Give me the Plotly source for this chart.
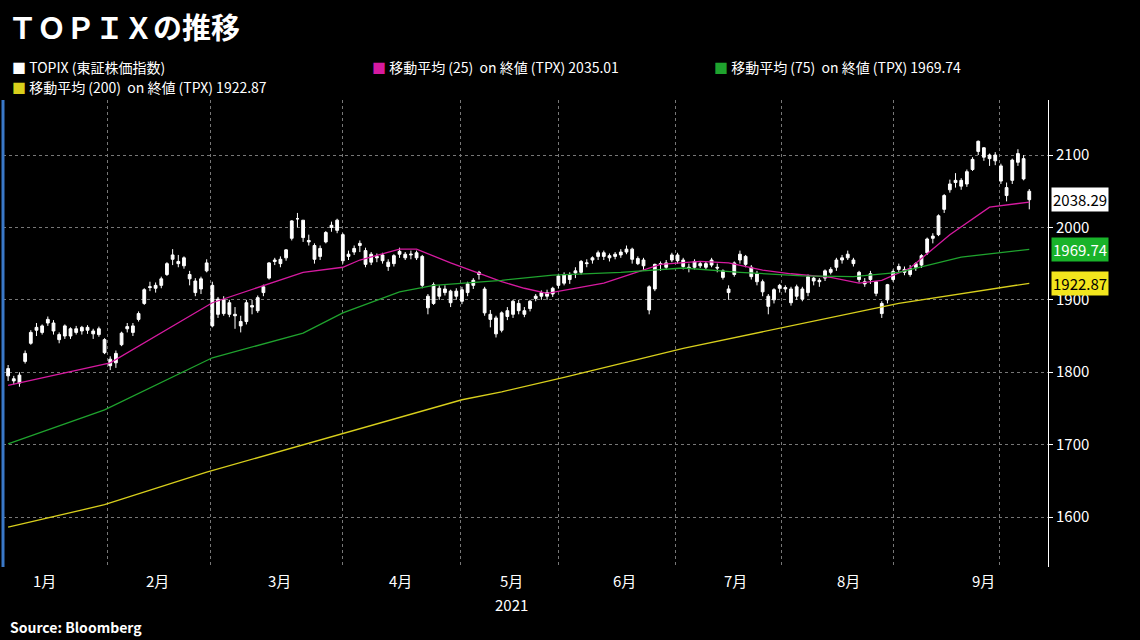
import plotly.graph_objects as go

# ---- daily TOPIX candles, 2021-01-04 .. 2021-09-29 ----
opens = [
    1805, 1788, 1785, 1815, 1840, 1862, 1855, 1868, 1868, 1852, 1850, 1860, 1855, 1862, 1858, 1857, 1852, 1845, 1818,
    1813, 1838, 1860, 1855, 1873, 1895, 1917, 1920, 1920, 1935, 1962, 1950, 1958, 1935, 1910, 1915, 1940, 1920,
    1880, 1900, 1880, 1880, 1870, 1870, 1890, 1885, 1910, 1930, 1955, 1950, 1958, 1985, 2012, 2010, 1980, 1975, 1960, 1980, 2000, 2010, 1990,
    1960, 1966, 1978, 1968, 1952, 1960, 1962, 1952, 1950, 1963, 1963, 1962, 1965, 1960, 1905, 1895, 1916, 1910, 1912, 1905, 1914,
    1910, 1920, 1938, 1915, 1880, 1875, 1858, 1885, 1880, 1895, 1880, 1888, 1902, 1905, 1910, 1908, 1920, 1935,
    1928, 1940, 1938, 1950, 1955, 1960, 1965, 1958, 1960, 1962, 1966, 1970, 1950, 1955, 1918, 1915, 1950, 1945, 1955, 1962, 1955, 1945,
    1945, 1950, 1945, 1955, 1945, 1940, 1915, 1935, 1955, 1960, 1945, 1925, 1925, 1905, 1900, 1920, 1915, 1915, 1905, 1915,
    1910, 1930, 1925, 1930, 1938, 1945, 1955, 1958, 1955, 1938, 1925, 1928, 1925, 1895, 1900, 1928, 1942, 1942, 1935, 1950, 1948,
    1965, 1985, 1990, 2025, 2052, 2062, 2065, 2060, 2080, 2105, 2110, 2100, 2092, 2085, 2055, 2065, 2090, 2095, 2050,
]
highs = [
    1810, 1795, 1800, 1830, 1858, 1868, 1866, 1877, 1872, 1855, 1866, 1862, 1864, 1864, 1865, 1860, 1863, 1847, 1822,
    1830, 1856, 1868, 1868, 1884, 1916, 1925, 1924, 1932, 1952, 1970, 1962, 1960, 1940, 1930, 1932, 1956, 1925,
    1904, 1905, 1900, 1890, 1878, 1900, 1900, 1906, 1921, 1952, 1958, 1960, 1970, 2010, 2020, 2010, 1990, 1978, 1975, 1995, 2008, 2012, 1992,
    1968, 1975, 1982, 1972, 1966, 1964, 1965, 1956, 1963, 1972, 1966, 1968, 1968, 1962, 1908, 1924, 1920, 1920, 1914, 1916, 1918,
    1925, 1930, 1940, 1918, 1886, 1878, 1884, 1890, 1900, 1900, 1890, 1900, 1908, 1913, 1914, 1918, 1936, 1938,
    1938, 1945, 1955, 1956, 1960, 1968, 1968, 1964, 1966, 1970, 1975, 1972, 1960, 1958, 1920, 1950, 1953, 1955, 1965, 1965, 1958, 1950,
    1956, 1953, 1953, 1958, 1950, 1942, 1920, 1953, 1968, 1962, 1948, 1940, 1928, 1908, 1916, 1922, 1920, 1918, 1921, 1918,
    1935, 1932, 1930, 1942, 1945, 1958, 1962, 1968, 1958, 1940, 1930, 1940, 1926, 1898, 1922, 1942, 1950, 1946, 1948, 1952, 1963,
    1986, 1992, 2018, 2046, 2066, 2075, 2068, 2080, 2097, 2120, 2111, 2102, 2104, 2088, 2062, 2095, 2108, 2100, 2053,
]
lows = [
    1788, 1783, 1780, 1812, 1838, 1850, 1852, 1864, 1852, 1840, 1846, 1846, 1852, 1852, 1853, 1846, 1849, 1825, 1803,
    1806, 1836, 1855, 1850, 1870, 1893, 1912, 1910, 1916, 1933, 1948, 1945, 1943, 1920, 1905, 1908, 1938, 1862,
    1875, 1878, 1876, 1860, 1855, 1866, 1880, 1882, 1905, 1928, 1948, 1945, 1954, 1982, 2000, 1980, 1975, 1950, 1955, 1978, 1994, 1992, 1950,
    1955, 1962, 1966, 1945, 1948, 1952, 1950, 1940, 1946, 1958, 1955, 1956, 1955, 1916, 1880, 1893, 1900, 1906, 1890, 1900, 1894,
    1905, 1915, 1928, 1878, 1862, 1848, 1855, 1872, 1875, 1880, 1876, 1884, 1898, 1900, 1900, 1904, 1916, 1920,
    1922, 1930, 1935, 1945, 1950, 1955, 1955, 1953, 1956, 1958, 1963, 1950, 1948, 1940, 1880, 1912, 1940, 1942, 1952, 1950, 1942, 1938,
    1942, 1944, 1942, 1945, 1938, 1928, 1900, 1932, 1950, 1945, 1928, 1920, 1905, 1880, 1895, 1910, 1910, 1892, 1900, 1898,
    1905, 1920, 1918, 1926, 1935, 1940, 1950, 1955, 1946, 1924, 1918, 1922, 1905, 1875, 1895, 1925, 1938, 1934, 1932, 1940, 1944,
    1962, 1978, 1988, 2020, 2048, 2055, 2052, 2056, 2078, 2100, 2092, 2085, 2086, 2060, 2036, 2060, 2085, 2065, 2025,
]
closes = [
    1795, 1791, 1796, 1826, 1855, 1858, 1864, 1873, 1857, 1845, 1864, 1850, 1860, 1857, 1862, 1853, 1860, 1827, 1809,
    1826, 1854, 1863, 1864, 1881, 1914, 1918, 1916, 1929, 1950, 1956, 1953, 1947, 1929, 1926, 1929, 1951, 1864,
    1901, 1881, 1896, 1878, 1864, 1896, 1892, 1903, 1918, 1951, 1953, 1956, 1969, 2009, 2012, 1986, 1982, 1956, 1971, 1993, 2003, 1996, 1954,
    1963, 1971, 1975, 1949, 1963, 1958, 1954, 1946, 1961, 1967, 1958, 1963, 1958, 1920, 1889, 1921, 1905, 1915, 1896, 1912, 1898,
    1922, 1927, 1935, 1882, 1873, 1853, 1882, 1877, 1898, 1885, 1885, 1898, 1905, 1910, 1905, 1916, 1933, 1923,
    1935, 1937, 1953, 1951, 1958, 1965, 1960, 1961, 1963, 1966, 1970, 1956, 1957, 1947, 1886, 1949, 1949, 1951, 1962, 1954, 1946, 1944,
    1953, 1947, 1950, 1948, 1944, 1931, 1910, 1951, 1963, 1949, 1932, 1936, 1911, 1891, 1914, 1916, 1917, 1896, 1918, 1901,
    1932, 1926, 1927, 1940, 1942, 1955, 1958, 1963, 1950, 1928, 1922, 1936, 1909, 1881, 1921, 1939, 1946, 1938, 1943, 1945, 1961,
    1984, 1988, 2016, 2044, 2060, 2065, 2057, 2077, 2094, 2119, 2097, 2095, 2100, 2064, 2044, 2093, 2102, 2067, 2038.29,
]
days = list(range(len(closes)))

# ---- moving averages, sampled at trading-day index ----
ma25_idx = [0, 18, 36, 52, 59, 62, 69, 72, 78, 87, 91, 95, 105, 111, 115, 122, 127, 133, 138, 145, 150, 154, 159, 166, 173, 180]
ma25_val = [1782, 1813, 1896, 1938, 1945, 1955, 1970, 1970, 1951, 1925, 1916, 1909, 1923, 1938, 1949, 1953, 1951, 1941, 1936, 1931, 1923, 1927, 1944, 1990, 2028, 2035.01]
ma75_idx = [0, 17, 36, 52, 59, 69, 75, 80, 87, 96, 108, 119, 129, 140, 149, 157, 168, 180]
ma75_val = [1701, 1748, 1820, 1854, 1882, 1911, 1920, 1923, 1927, 1934, 1938, 1944, 1938, 1933, 1932, 1938, 1959, 1969.74]
ma200_idx = [0, 17, 35, 80, 87, 98, 119, 136, 150, 157, 180]
ma200_val = [1586, 1617, 1662, 1762, 1773, 1793, 1833, 1861, 1883, 1895, 1922.87]

month_labels = ["1月", "2月", "3月", "4月", "5月", "6月", "7月", "8月", "9月"]
month_label_pos = [6.5, 26.4, 47.8, 69.1, 88.8, 108.6, 128.3, 148.2, 171.9]
grid_pos = [17.6, 35.7, 59, 79.8, 97, 117.6, 136.4, 156, 174.7]
y_ticks = [1600, 1700, 1800, 1900, 2000, 2100]

MAG, GRN, YEL = "#d61aa0", "#1fa32e", "#d8cf1c"
FONT = "Noto Sans CJK JP"

# figure / plot area in page pixels
W, H, L, R, T, B = 1140, 640, 3, 92, 100, 73


def px(x):
    return (x - L) / (W - L - R)


def py(y):
    return (H - B - y) / (H - T - B)


fig = go.Figure()
fig.add_trace(go.Candlestick(
    x=days, open=opens, high=highs, low=lows, close=closes,
    increasing=dict(line=dict(color="white", width=1), fillcolor="white"),
    decreasing=dict(line=dict(color="white", width=1), fillcolor="white"),
    whiskerwidth=0, showlegend=False,
))
fig.add_trace(go.Scatter(x=ma25_idx, y=ma25_val, mode="lines", line=dict(color=MAG, width=1.3), showlegend=False))
fig.add_trace(go.Scatter(x=ma75_idx, y=ma75_val, mode="lines", line=dict(color=GRN, width=1.3), showlegend=False))
fig.add_trace(go.Scatter(x=ma200_idx, y=ma200_val, mode="lines", line=dict(color=YEL, width=1.3), showlegend=False))

fig.update_layout(
    width=W, height=H,
    paper_bgcolor="black", plot_bgcolor="black",
    margin=dict(l=L, r=R, t=T, b=B),
    font=dict(family=FONT, color="white", size=14),
    xaxis=dict(range=[-0.9, 183.3], tickvals=grid_pos, ticktext=[""] * len(grid_pos),
               showgrid=True, gridcolor="#777", griddash="dot", gridwidth=1,
               rangeslider=dict(visible=False), zeroline=False, ticks="", showline=False),
    yaxis=dict(range=[1531, 2176], side="right", tickvals=y_ticks,
               showgrid=True, gridcolor="#777", griddash="dot", gridwidth=1,
               ticks="outside", ticklen=4, tickcolor="white",
               showline=True, linecolor="white", linewidth=1, zeroline=False,
               tickfont=dict(size=15, family=FONT)),
)

# title and source
fig.add_annotation(text="<b>ＴＯＰＩＸの推移</b>", x=px(6), y=py(26), xref="paper", yref="paper",
                   xanchor="left", yanchor="middle", showarrow=False, font=dict(size=29, family=FONT))
fig.add_annotation(text="<b>Source: Bloomberg</b>", x=px(8), y=py(627), xref="paper", yref="paper",
                   xanchor="left", yanchor="middle", showarrow=False, font=dict(size=14, family=FONT))

# legend
legend = [
    ("white", "TOPIX (東証株価指数)", 10, 67),
    (MAG, "移動平均 (25)  on 終値 (TPX) 2035.01", 370, 67),
    (GRN, "移動平均 (75)  on 終値 (TPX) 1969.74", 712, 67),
    (YEL, "移動平均 (200)  on 終値 (TPX) 1922.87", 10, 87),
]
for col, txt, lx, ly in legend:
    fig.add_annotation(text=f"<span style='color:{col}'>■</span> {txt}", x=px(lx), y=py(ly),
                       xref="paper", yref="paper", xanchor="left", yanchor="middle",
                       showarrow=False, font=dict(size=14, family=FONT))

# month labels
for lab, pos in zip(month_labels, month_label_pos):
    fig.add_annotation(text=lab, x=pos, y=py(580), xref="x", yref="paper", yanchor="middle",
                       showarrow=False, font=dict(size=15, family=FONT))
fig.add_annotation(text="2021", x=month_label_pos[4], y=py(604), xref="x", yref="paper", yanchor="middle",
                   showarrow=False, font=dict(size=15, family=FONT))

# last-value tags on the right axis
tags = [(closes[-1], "white", "black"), (ma75_val[-1], "#19b32a", "white"), (ma200_val[-1], "#f2e51d", "black")]
for val, bg, fg in tags:
    fig.add_annotation(text=f"{val:.2f}", x=1.003, y=val, xref="paper", yref="y", xanchor="left",
                       showarrow=False, bgcolor=bg, font=dict(size=15, color=fg, family=FONT), borderpad=1)

fig.add_shape(type="line", x0=0, x1=0, y0=0, y1=1, xref="paper", yref="paper",
              line=dict(color="#3a78c8", width=3))

fig.write_html("out.html", config={"displayModeBar": False},
               post_script="document.body.style.margin='0';document.body.style.background='black';")
